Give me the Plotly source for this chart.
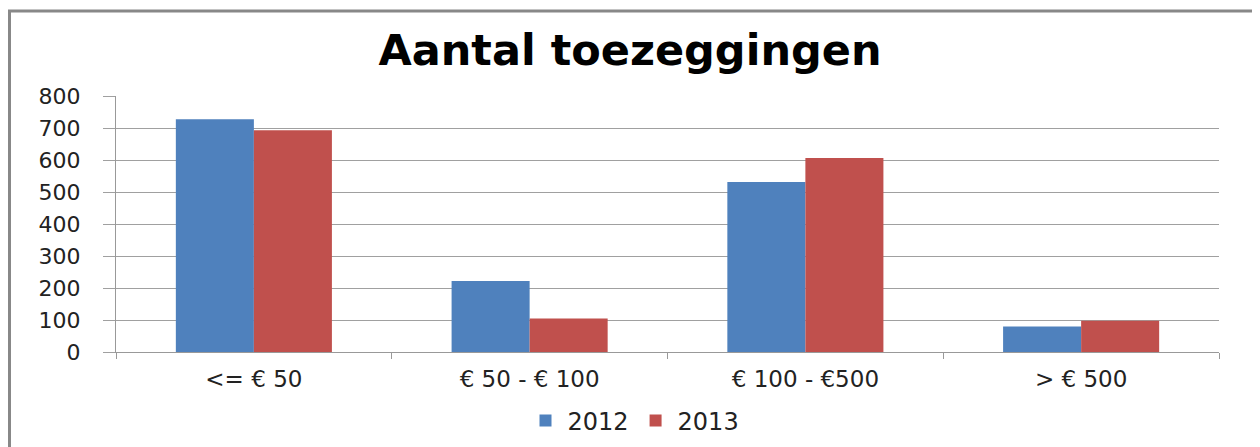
import plotly.graph_objects as go

categories = ["<= € 50", "€ 50 - € 100", "€ 100 - €500", "> € 500"]
series_names = ["2012", "2013"]
values_2012 = [727, 222, 531, 80]
values_2013 = [693, 105, 606, 98]
colors = ["#4F81BD", "#C0504D"]

# page is rendered with an 8px body margin: work in page pixels, shift by OFF
OFF = 8
W, H = 1260 - OFF, 447 - OFF
L, R, T, B = 116 - OFF, 1260 - 1219, 96 - OFF, 447 - 352
pw, ph = W - L - R, H - T - B

fig = go.Figure()
for name, vals, col in zip(series_names, [values_2012, values_2013], colors):
    fig.add_trace(go.Bar(x=categories, y=vals, name=name, marker=dict(color=col, line=dict(width=0))))

def px_x(p):
    return (p - OFF - L) / pw

def px_y(p):
    return (T + ph - (p - OFF)) / ph

fig.update_layout(
    width=W, height=H,
    margin=dict(l=L, r=R, t=T, b=B, autoexpand=False),
    paper_bgcolor="white", plot_bgcolor="white",
    barmode="group", bargap=0.434, bargroupgap=0,
    title=dict(text="<b>Aantal toezeggingen</b>", x=(630 - OFF) / W, xanchor="center", xref="container",
               y=1 - (50 - OFF) / H, yanchor="middle", yref="container",
               font=dict(family="DejaVu Sans", size=43, color="#000000")),
    font=dict(family="DejaVu Sans", size=20, color="#222222"),
    legend=dict(orientation="h", x=px_x(634), xanchor="center", y=px_y(421), yanchor="middle",
                font=dict(family="DejaVu Sans", size=24, color="#222222"),
                itemwidth=34, traceorder="normal"),
    showlegend=True,
    shapes=[dict(type="rect", xref="paper", yref="paper",
                 x0=px_x(9.5), x1=px_x(1254.5), y0=px_y(480), y1=px_y(11),
                 line=dict(color="#888888", width=3), fillcolor="rgba(0,0,0,0)", layer="below")],
)
fig.update_xaxes(showline=True, linecolor="#999999", linewidth=1, ticks="outside", tickson="boundaries",
                 ticklen=6, tickcolor="#999999", showgrid=False, automargin=False,
                 ticklabelstandoff=6,
                 tickfont=dict(family="DejaVu Sans", size=23, color="#222222"))
fig.update_yaxes(range=[0, 800], dtick=100, showgrid=True, gridcolor="#A0A0A0", gridwidth=1,
                 showline=True, linecolor="#999999", linewidth=1, ticks="outside", ticklen=12,
                 tickcolor="#A0A0A0", zeroline=False, automargin=False,
                 ticklabelstandoff=18,
                 tickfont=dict(family="DejaVu Sans", size=22, color="#222222"))

fig.write_html("out.html")
